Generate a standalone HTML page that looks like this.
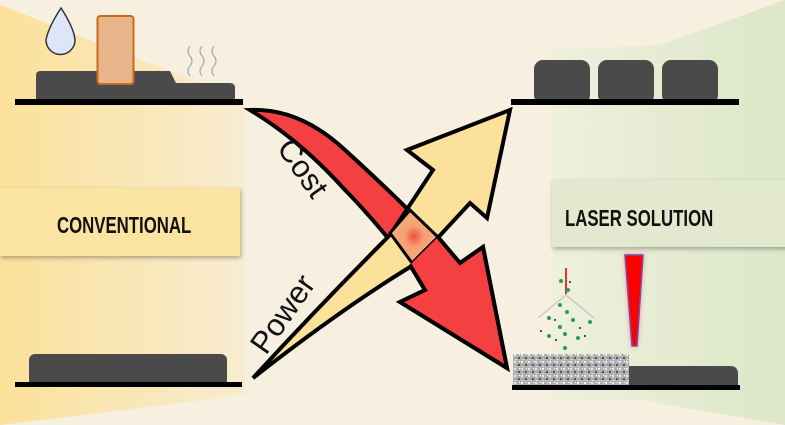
<!DOCTYPE html>
<html><head><style>body{margin:0}svg{display:block}</style></head><body>
<svg width="785" height="425" viewBox="0 0 785 425" xmlns="http://www.w3.org/2000/svg">
<defs>
<linearGradient id="yl" x1="0" x2="1"><stop offset="0" stop-color="#fbe19a"/><stop offset="1" stop-color="#f8ecd0"/></linearGradient>
<linearGradient id="gr" x1="0" x2="1"><stop offset="0" stop-color="#eef0dc"/><stop offset="1" stop-color="#dde7c8"/></linearGradient>
<radialGradient id="ov"><stop offset="0" stop-color="#f05040"/><stop offset="0.4" stop-color="#f5a075"/><stop offset="1" stop-color="#f6b080"/></radialGradient>
<pattern id="gran" width="7" height="7" patternUnits="userSpaceOnUse"><rect width="7" height="7" fill="#b0b0b0"/><rect x="0" y="0" width="2" height="2" fill="#555"/><rect x="3" y="4" width="2" height="2" fill="#eee"/><rect x="5" y="1" width="1" height="2" fill="#777"/><rect x="1" y="4" width="1" height="1" fill="#fff"/><rect x="4" y="2" width="2" height="1" fill="#ddd"/></pattern>
</defs>
<rect width="785" height="425" fill="#f7f0e1"/>
<polygon points="0,5 245,100 245,395 0,425" fill="url(#yl)"/>
<polygon points="552,50 660,45 785,0 785,425 640,400 552,400" fill="url(#gr)"/>
<path d="M40,71 H170 L176,83 H230 Q235,83 235,88 V101 H36 V76 Q36,71 40,71Z" fill="#4a4a4a"/>
<rect x="97.5" y="16" width="36" height="68" rx="3" fill="#e8b58a" stroke="#c8691e" stroke-width="2"/>
<path d="M61,8 Q48,28 46,40 A14,14 0 0 0 75,40 Q74,28 61,8Z" fill="#dce6f8" stroke="#333" stroke-width="1.5"/>
<path d="M190,46 q-4,5 0,10 q4,5 0,10 q-4,5 0,10 M202,46 q-4,5 0,10 q4,5 0,10 q-4,5 0,10 M214,46 q-4,5 0,10 q4,5 0,10 q-4,5 0,10" fill="none" stroke="#aaa" stroke-width="1.2"/>
<rect x="15" y="99" width="228" height="6" fill="#000"/>
<rect x="29" y="354" width="198" height="32" rx="6" fill="#4a4a4a"/>
<rect x="15" y="382" width="227" height="5" fill="#000"/>
<rect x="0" y="188" width="240" height="68" fill="#fbe4a2" style="filter:drop-shadow(1px 2px 2px rgba(0,0,0,.3))"/>
<text x="57" y="233" font-family="Liberation Sans, sans-serif" font-weight="bold" font-size="23" transform="translate(57 0) scale(0.73 1) translate(-57 0)" fill="#111">CONVENTIONAL</text>
<rect x="552" y="180" width="240" height="67" fill="#e2e9cf" style="filter:drop-shadow(1px 2px 2px rgba(0,0,0,.3))"/>
<text x="565" y="226" font-family="Liberation Sans, sans-serif" font-weight="bold" font-size="23" transform="translate(565 0) scale(0.73 1) translate(-565 0)" fill="#111">LASER SOLUTION</text>
<rect x="534" y="60" width="56" height="44" rx="9" fill="#4a4a4a"/>
<rect x="598" y="60" width="56" height="44" rx="9" fill="#4a4a4a"/>
<rect x="662" y="60" width="56" height="44" rx="9" fill="#4a4a4a"/>
<rect x="511" y="99" width="228" height="6" fill="#000"/>
<path d="M628,366 H730 Q738,366 738,374 V386 H628Z" fill="#4a4a4a"/>
<rect x="513" y="354" width="116" height="32" fill="url(#gran)"/>
<rect x="512" y="385" width="228" height="5" fill="#000"/>
<polygon points="625,255 643,255 637,346 632,346" fill="#f00" stroke="#7050a0" stroke-width="1.5" style="filter:drop-shadow(0 0 2px #f8a)"/>
<line x1="566" y1="268" x2="566" y2="294" stroke="#e33" stroke-width="2"/>
<path d="M538,318 L566,295 L594,318" fill="none" stroke="#bbb" stroke-width="1"/>
<g fill="#2a9a5a"><circle cx="561" cy="281" r="2"/><circle cx="568" cy="290" r="2"/><circle cx="560" cy="305" r="2"/><circle cx="567" cy="312" r="2"/><circle cx="549" cy="318" r="2"/><circle cx="573" cy="320" r="2"/><circle cx="590" cy="322" r="2"/><circle cx="560" cy="327" r="2"/><circle cx="549" cy="336" r="2"/><circle cx="565" cy="334" r="2"/><circle cx="578" cy="338" r="2"/><circle cx="565" cy="348" r="2"/></g>
<g fill="#222"><circle cx="570" cy="282" r="1"/><circle cx="555" cy="320" r="1"/><circle cx="541" cy="331" r="1"/><circle cx="585" cy="336" r="1"/><circle cx="580" cy="328" r="1"/><circle cx="556" cy="340" r="1"/></g>
<path d="M250,110 Q300,108 345,150 Q400,200 440,242 L460,263 L483,247 L507,368 L400,302 L425,290 L410,265 Q370,215 345,190 Q300,140 250,110Z" fill="#f44040" stroke="#000" stroke-width="4" stroke-linejoin="miter"/>
<path d="M253,378 Q340,310 410,267 L433,243 L470,203 L487,218 L510,110 L407,150 L433,170 L390,235 Q320,305 253,378Z" fill="#fbe19a" stroke="#000" stroke-width="4"/>
<polygon points="390,233 410,210 438,237 412,263" fill="url(#ov)" stroke="#000" stroke-width="3"/>
<path d="M410,265 L425,290 L400,302 L507,368 L483,247 L460,263 L438,237" fill="#f44040" stroke="#000" stroke-width="4"/>
<text font-family="Liberation Sans, sans-serif" font-size="31" fill="#111" transform="translate(276 148) rotate(55)">Cost</text>
<text font-family="Liberation Sans, sans-serif" font-size="31" fill="#111" transform="translate(266 356) rotate(-55)">Power</text>
</svg>
</body></html>
